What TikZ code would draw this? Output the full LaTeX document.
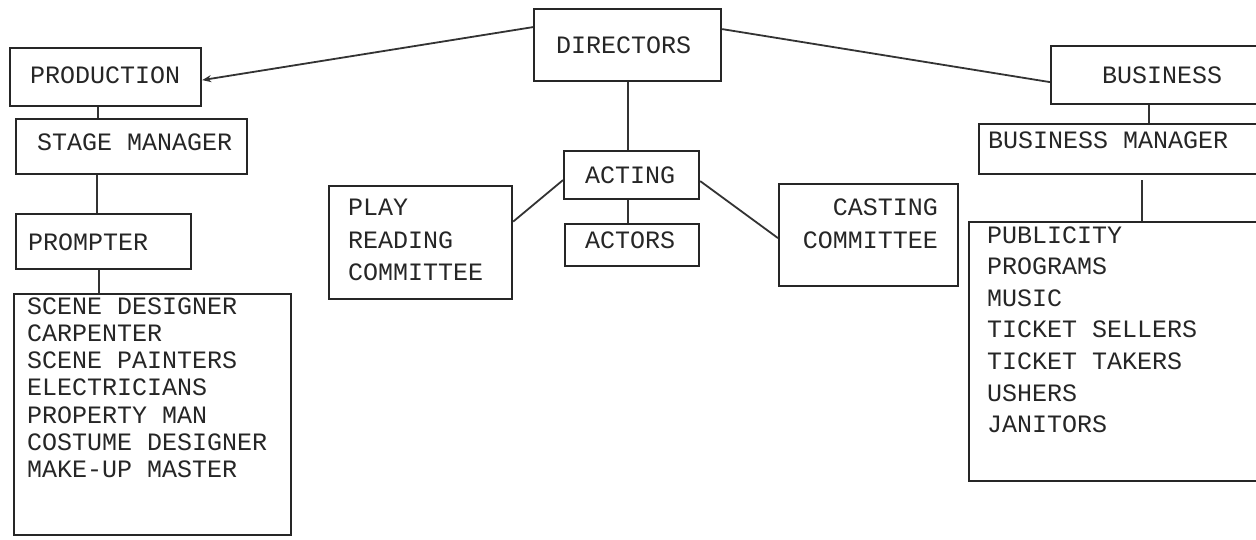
\documentclass[tikz,border=0pt]{standalone}
\usepackage{fontspec}
\newfontfamily\tw{Liberation Mono}
\usetikzlibrary{arrows.meta}
\begin{document}
\begin{tikzpicture}[x=1pt,y=-1pt,
  box/.style={draw=black!85, line width=2.2pt, rectangle, inner sep=0pt, anchor=north west},
  txt/.style={font=\tw\fontsize{25}{25}\selectfont, text=black!85, inner sep=0pt, anchor=base west},
  link/.style={draw=black!80, line width=1.8pt},
  arr/.style={link, -{Stealth[length=9pt,width=7pt]}}]
\useasboundingbox (0,0) rectangle (1256,539);
\clip (0,0) rectangle (1256,539);
\fill[white] (0,0) rectangle (1256,539);
% boxes
\node[box, minimum width=187pt, minimum height=72pt] (dir) at (533,8) {};
\node[box, minimum width=191pt, minimum height=58pt] (prod) at (9,47) {};
\node[box, minimum width=231pt, minimum height=55pt] (sm) at (15,118) {};
\node[box, minimum width=175pt, minimum height=55pt] (prom) at (15,213) {};
\node[box, minimum width=277pt, minimum height=241pt] (plist) at (13,293) {};
\node[box, minimum width=135pt, minimum height=48pt] (act) at (563,150) {};
\node[box, minimum width=134pt, minimum height=42pt] (actors) at (564,223) {};
\node[box, minimum width=183pt, minimum height=113pt] (prc) at (328,185) {};
\node[box, minimum width=179pt, minimum height=102pt] (cc) at (778,183) {};
\node[box, minimum width=212pt, minimum height=58pt] (bus) at (1050,45) {};
\node[box, minimum width=284pt, minimum height=50pt] (bm) at (978,123) {};
\node[box, minimum width=294pt, minimum height=259pt] (blist) at (968,221) {};
% texts
\node[txt] (tdir) at (556,53) {DIRECTORS};
\node[txt] (tprod) at (30,83) {PRODUCTION};
\node[txt] (tsm) at (37,150) {STAGE MANAGER};
\node[txt] (tprom) at (28,250) {PROMPTER};
\node[txt] (tact) at (585,183) {ACTING};
\node[txt] (tactors) at (585,248) {ACTORS};
\node[txt] (tprc1) at (348,215) {PLAY};
\node[txt] (tprc2) at (348,248) {READING};
\node[txt] (tprc3) at (348,280) {COMMITTEE};
\node[txt, anchor=base east] (tcc1) at (938,215) {CASTING};
\node[txt, anchor=base east] (tcc2) at (938,248) {COMMITTEE};
\node[txt] (tbus) at (1102,83) {BUSINESS};
\node[txt] (tbm) at (988,148) {BUSINESS MANAGER};
\foreach \t [count=\i] in {SCENE DESIGNER, CARPENTER, SCENE PAINTERS, ELECTRICIANS, PROPERTY MAN, COSTUME DESIGNER, MAKE-UP MASTER}
  \node[txt] (pl\i) at (27,{314+27.3*(\i-1)}) {\t};
\foreach \t [count=\i] in {PUBLICITY, PROGRAMS, MUSIC, TICKET SELLERS, TICKET TAKERS, USHERS, JANITORS}
  \node[txt] (bl\i) at (987,{243+31.6*(\i-1)}) {\t};
% connectors
\draw[arr] ([yshift=18pt]dir.west) -- ([yshift=-3pt]prod.east);
\draw[link] ([yshift=16pt]dir.east) -- ([yshift=-7pt]bus.west);
\draw[link] (dir.south) -- (dir.south |- act.north);
\draw[link] (dir.south |- act.south) -- (dir.south |- actors.north);
\draw[link] ([yshift=-5pt]act.west) -- ([yshift=21pt]prc.east);
\draw[link] ([yshift=-6pt]act.east) -- ([yshift=-3pt]cc.west);
\coordinate (x1) at ([xshift=-7.5pt]prod.south);
\draw[link] (x1) -- (x1 |- sm.north);
\coordinate (x2) at ([xshift=-6.5pt]prom.north);
\draw[link] (x2 |- sm.south) -- (x2);
\coordinate (x3) at ([xshift=-4.5pt]prom.south);
\draw[link] (x3) -- (x3 |- plist.north);
\coordinate (x4) at ([xshift=-8pt]bus.south);
\draw[link] (x4) -- (x4 |- bm.north);
\coordinate (x5) at ([xshift=21pt]bm.south);
\draw[link] ([yshift=-5pt]x5) -- (x5 |- blist.north);
\end{tikzpicture}
\end{document}
